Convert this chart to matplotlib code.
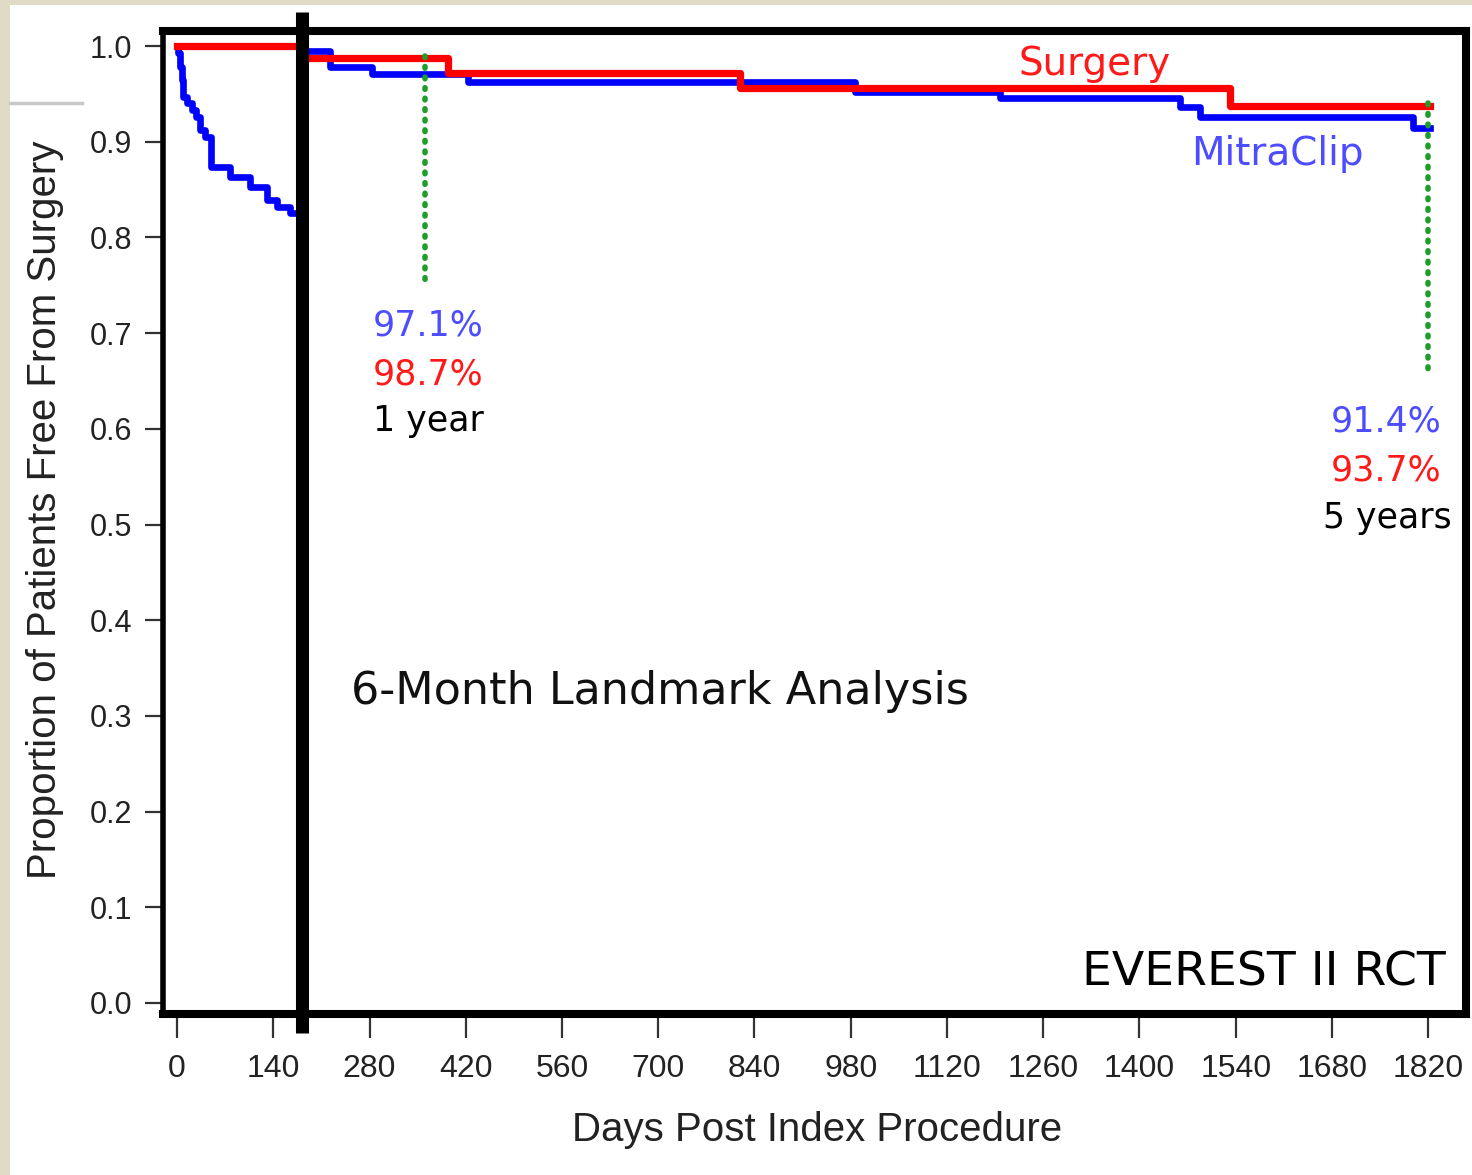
import numpy as np
from matplotlib import pyplot as plt
from matplotlib.patches import Rectangle
from matplotlib.lines import Line2D

# data
# first 6 months (all patients)
clip_pre_days = [0, 2, 4, 7, 9, 15, 22, 27, 33, 40, 49, 77, 106, 131, 145, 164, 182]
clip_pre_surv = [1.0, 0.993, 0.978, 0.964, 0.947, 0.940, 0.933, 0.926, 0.912, 0.905,
                 0.874, 0.863, 0.853, 0.839, 0.832, 0.826, 0.826]
surg_pre_days = [0, 182]
surg_pre_surv = [1.0, 1.0]

# landmark analysis from 6 months on
clip_post_days = [182, 223, 284, 423, 986, 1197, 1459, 1488, 1798, 1822]
clip_post_surv = [0.995, 0.978, 0.971, 0.962, 0.952, 0.946, 0.936, 0.926, 0.914, 0.914]
surg_post_days = [182, 394, 819, 1532, 1822]
surg_post_surv = [0.987, 0.972, 0.956, 0.937, 0.937]

landmark_day = 182
mark_days = [360, 1820]
mark_top = [0.99, 0.94]
mark_bottom = [0.75, 0.66]

clip_pct = ["97.1%", "91.4%"]
surg_pct = ["98.7%", "93.7%"]
mark_names = ["1 year", "5 years"]

xticks = np.arange(0, 1821, 140)
yticks = np.arange(0, 1.01, 0.1)

BLUE = "#0000FF"
RED = "#FF0000"
BLUE_TXT = "#4D4DFF"
RED_TXT = "#FF1A1A"
GREEN = "#1E9E28"

fig = plt.figure(figsize=(14.72, 11.75), dpi=100, facecolor="#E0DBC7")
# white slide area behind everything
fig.patches.append(Rectangle((10/1472, 0), 1, 1 - 5/1175, transform=fig.transFigure,
                             facecolor="white", edgecolor="none", zorder=-2))
fig.lines.append(Line2D([10/1472, 82/1472], [1 - 103/1175, 1 - 103/1175],
                        transform=fig.transFigure, color="#C8C8C8", lw=2.5, zorder=-1))

ax = fig.add_axes([163/1472, 161/1175, 1303/1472, 983/1175])
ax.set_facecolor("white")

ax.step(clip_pre_days, clip_pre_surv, where="post", color=BLUE, lw=4.8)
ax.step(surg_pre_days, surg_pre_surv, where="post", color=RED, lw=5.2)
ax.step(clip_post_days, clip_post_surv, where="post", color=BLUE, lw=4.8)
ax.step(surg_post_days, surg_post_surv, where="post", color=RED, lw=5.2)

# 6 month landmark bar
ax.plot([landmark_day, landmark_day], [-0.0313, 1.0355], color="black", lw=9.4,
        solid_capstyle="butt", clip_on=False, zorder=5)

# 1 and 5 year markers
for d, t, b in zip(mark_days, mark_top, mark_bottom):
    ax.plot([d, d], [t, b], color=GREEN, lw=4, linestyle=(0, (0.3, 1.6)),
            dash_capstyle="round", zorder=4)

ax.text(365, 0.698, clip_pct[0], color=BLUE_TXT, fontsize=25, ha="center")
ax.text(365, 0.646, surg_pct[0], color=RED_TXT, fontsize=25, ha="center")
ax.text(365, 0.598, mark_names[0], color="black", fontsize=25, ha="center")
ax.text(1759, 0.597, clip_pct[1], color=BLUE_TXT, fontsize=25, ha="center")
ax.text(1759, 0.546, surg_pct[1], color=RED_TXT, fontsize=25, ha="center")
ax.text(1760, 0.496, mark_names[1], color="black", fontsize=25, ha="center")

ax.text(1334, 0.970, "Surgery", color=RED_TXT, fontsize=28, ha="center")
ax.text(1600, 0.876, "MitraClip", color=BLUE_TXT, fontsize=28, ha="center")
ax.text(702, 0.312, "6-Month Landmark Analysis", color="#111111", fontsize=32, ha="center")
ax.text(1845, 0.0188, "EVEREST II RCT", color="black", fontsize=34, ha="right")

ax.set_xlim(-20.4, 1875)
ax.set_ylim(-0.0115, 1.0157)
ax.set_xticks(xticks)
ax.set_yticks(yticks)
ax.set_yticklabels([f"{v:.1f}" for v in yticks])
for lab in ax.get_xticklabels() + ax.get_yticklabels():
    lab.set_fontfamily("Liberation Sans")
ax.tick_params(axis="x", length=17, width=1.6, color="#333333", labelsize=23, pad=12,
               labelcolor="#222222")
ax.tick_params(axis="y", length=13, width=1.6, color="#333333", labelsize=22, pad=9,
               labelcolor="#222222")

for s in ["top", "bottom", "right"]:
    ax.spines[s].set_linewidth(5.8)
ax.spines["left"].set_linewidth(4)

ax.set_xlabel("Days Post Index Procedure", fontsize=29, family="Liberation Sans",
              color="#222222", va="center")
ax.set_ylabel("Proportion of Patients Free From Surgery", fontsize=29,
              family="Liberation Sans", color="#222222", va="center")
ax.xaxis.set_label_coords(0.502, -0.118)
ax.yaxis.set_label_coords(-0.0906, 0.5127)

plt.savefig("out.png", dpi=100, facecolor=fig.get_facecolor())
